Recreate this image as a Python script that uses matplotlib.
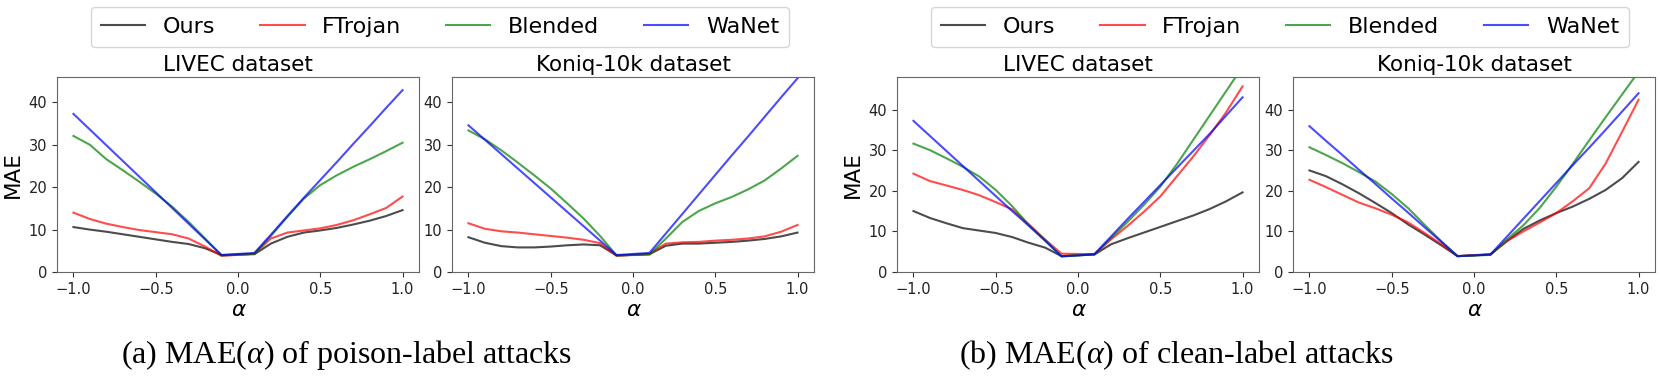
import matplotlib
matplotlib.use("Agg")
import matplotlib.pyplot as plt

plt.rcParams["mathtext.fontset"] = "custom"
plt.rcParams["mathtext.rm"] = "Liberation Serif"
plt.rcParams["mathtext.it"] = "Liberation Serif:italic"

alpha = [-1.0, -0.9, -0.8, -0.7, -0.6, -0.5, -0.4, -0.3, -0.2, -0.1,
         0.1, 0.2, 0.3, 0.4, 0.5, 0.6, 0.7, 0.8, 0.9, 1.0]
methods = ["Ours", "FTrojan", "Blended", "WaNet"]

# poison-label, LIVEC
ours_p_livec = [10.6, 10.0, 9.5, 8.9, 8.3, 7.7, 7.1, 6.6, 5.6, 4.0, 4.2, 6.7, 8.3, 9.3, 9.8, 10.4, 11.2, 12.1, 13.2, 14.6]
ftro_p_livec = [14.0, 12.5, 11.4, 10.6, 9.9, 9.4, 8.9, 7.9, 6.0, 3.8, 4.3, 7.9, 9.3, 9.8, 10.3, 11.1, 12.2, 13.6, 15.1, 17.8]
blen_p_livec = [32.1, 30.0, 26.6, 24.0, 21.3, 18.5, 15.4, 11.8, 7.9, 3.9, 4.3, 8.5, 13.0, 17.3, 20.5, 22.8, 24.8, 26.6, 28.5, 30.5]
wane_p_livec = [37.3, 33.6, 29.9, 26.2, 22.5, 18.8, 15.1, 11.4, 7.7, 4.0, 4.5, 8.8, 13.2, 17.5, 21.7, 25.9, 30.2, 34.4, 38.7, 42.9]
# poison-label, Koniq-10k
ours_p_koniq = [8.2, 6.9, 6.1, 5.8, 5.8, 6.0, 6.3, 6.5, 6.3, 3.9, 4.2, 6.2, 6.7, 6.7, 6.9, 7.1, 7.4, 7.8, 8.4, 9.3]
ftro_p_koniq = [11.5, 10.2, 9.6, 9.3, 8.9, 8.5, 8.1, 7.6, 6.8, 3.8, 4.3, 6.7, 7.0, 7.1, 7.4, 7.6, 7.9, 8.4, 9.5, 11.1]
blen_p_koniq = [33.4, 31.3, 28.7, 25.8, 22.8, 19.7, 16.2, 12.6, 8.5, 3.9, 4.1, 7.9, 11.8, 14.4, 16.2, 17.7, 19.5, 21.6, 24.4, 27.4]
wane_p_koniq = [34.6, 31.2, 27.8, 24.4, 21.0, 17.6, 14.2, 10.8, 7.4, 4.0, 4.5, 9.1, 13.7, 18.3, 22.9, 27.5, 32.0, 36.6, 41.2, 45.7]
# clean-label, LIVEC
ours_c_livec = [15.0, 13.3, 12.0, 10.8, 10.2, 9.6, 8.6, 7.2, 6.0, 3.9, 4.3, 6.8, 8.3, 9.7, 11.1, 12.5, 13.9, 15.5, 17.4, 19.6]
ftro_c_livec = [24.2, 22.4, 21.3, 20.2, 18.9, 17.2, 15.4, 11.8, 8.0, 4.5, 4.4, 8.0, 11.3, 14.8, 18.6, 23.5, 28.4, 33.7, 39.3, 45.7]
blen_c_livec = [31.6, 30.0, 28.0, 25.9, 23.5, 20.2, 16.2, 11.6, 7.8, 3.9, 4.3, 8.3, 12.3, 16.5, 21.0, 26.5, 32.5, 38.5, 44.5, 50.5]
wane_c_livec = [37.2, 33.5, 29.8, 26.1, 22.4, 18.7, 15.0, 11.4, 7.7, 3.8, 4.4, 8.7, 13.0, 17.2, 21.4, 25.6, 29.8, 34.0, 38.5, 43.0]
# clean-label, Koniq-10k
ours_c_koniq = [25.0, 23.6, 21.6, 19.4, 17.0, 14.5, 11.7, 9.2, 6.6, 3.9, 4.3, 7.6, 10.6, 12.7, 14.5, 16.1, 18.0, 20.2, 23.1, 27.1]
ftro_c_koniq = [22.7, 20.9, 19.0, 17.1, 15.7, 14.1, 12.2, 9.6, 6.9, 3.9, 4.4, 7.6, 10.0, 12.2, 14.5, 17.4, 20.6, 26.7, 34.5, 42.4]
blen_c_koniq = [30.7, 28.8, 26.8, 24.6, 22.3, 19.2, 15.7, 11.6, 7.6, 3.9, 4.2, 8.0, 11.5, 15.8, 21.0, 26.6, 32.4, 38.1, 43.7, 49.3]
wane_c_koniq = [35.9, 32.3, 28.8, 25.2, 21.7, 18.1, 14.6, 11.0, 7.5, 3.9, 4.3, 8.7, 13.1, 17.5, 21.9, 26.3, 30.6, 35.0, 39.5, 44.0]

COLS = ["k", "r", "g", "b"]
W, H = 1660, 376
fig = plt.figure(figsize=(W / 100, H / 100), dpi=100)

panels = [
    (57, "LIVEC dataset", [ours_p_livec, ftro_p_livec, blen_p_livec, wane_p_livec], 46, True),
    (452, "Koniq-10k dataset", [ours_p_koniq, ftro_p_koniq, blen_p_koniq, wane_p_koniq], 46, False),
    (897, "LIVEC dataset", [ours_c_livec, ftro_c_livec, blen_c_livec, wane_c_livec], 48, True),
    (1293, "Koniq-10k dataset", [ours_c_koniq, ftro_c_koniq, blen_c_koniq, wane_c_koniq], 48, False),
]
axes = []
for left, ttl, series, ytop, ylab in panels:
    ax = fig.add_axes([left / W, 104 / H, 362 / W, 195 / H])
    for s, c, m in zip(series, COLS, methods):
        ax.plot(alpha, s, color=c, alpha=0.7, lw=1.5, label=m)
    ax.set_xlim(-1.1, 1.1); ax.set_ylim(0, ytop)
    ax.set_xticks([-1.0, -0.5, 0.0, 0.5, 1.0]); ax.set_yticks([0, 10, 20, 30, 40])
    ax.tick_params(labelsize=10.5, colors="#333333", labelcolor="#222222")
    for sp in ax.spines.values(): sp.set_color("#666666")
    ax.set_title(ttl, fontsize=15.5, pad=4)
    ax.set_xlabel("α", fontsize=15.5, style="italic", labelpad=2)
    if ylab: ax.set_ylabel("MAE", fontsize=15.5, labelpad=4)
    axes.append(ax)

h, l = axes[0].get_legend_handles_labels()
for cx in (440, 1280):
    fig.legend(h, l, loc="center", bbox_to_anchor=(cx / W, 1 - 27 / H), ncol=4,
               fontsize=16, handlelength=2.0, columnspacing=2.0,
               borderpad=0.45, handletextpad=0.8)

fig.text(347 / W, 1 - 355 / H, r"(a) MAE($\alpha$) of poison-label attacks",
         family="Liberation Serif", fontsize=23, ha="center", va="center")
fig.text(1177 / W, 1 - 355 / H, r"(b) MAE($\alpha$) of clean-label attacks",
         family="Liberation Serif", fontsize=23, ha="center", va="center")

fig.savefig("out.png", dpi=100)
